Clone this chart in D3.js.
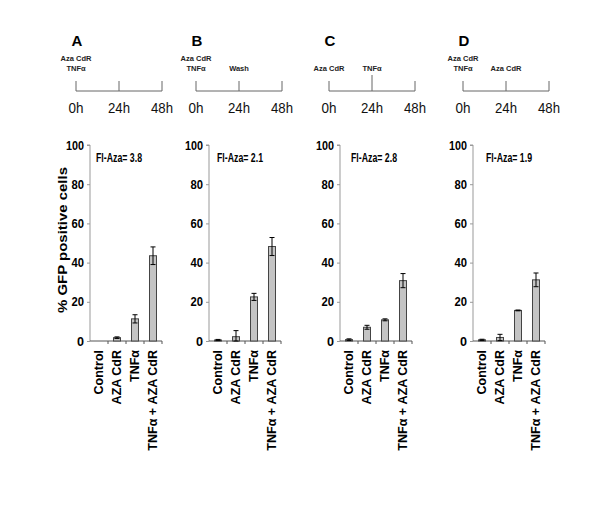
<!DOCTYPE html>
<html><head><meta charset="utf-8">
<script src="https://cdn.jsdelivr.net/npm/d3@7"></script>
<style>body{margin:0;background:#fff}svg{display:block}text{font-family:"Liberation Sans",Arial,sans-serif}</style>
</head><body><div id="chart"></div>
<script>
const categories = ["Control", "AZA CdR", "TNFα", "TNFα + AZA CdR"];
const panelLetters = ["A", "B", "C", "D"];
const foldLabels = ["Fl-Aza= 3.8", "Fl-Aza= 2.1", "Fl-Aza= 2.8", "Fl-Aza= 1.9"];
const valuesA = [0, 1.7, 11.3, 43.5];
const errorsA = [0, 0.4, 2.1, 4.5];
const valuesB = [0.5, 2.2, 22.5, 48.2];
const errorsB = [0.3, 3.1, 1.8, 4.6];
const valuesC = [0.7, 7.0, 10.8, 30.8];
const errorsC = [0.4, 1.0, 0.5, 3.6];
const valuesD = [0.6, 1.8, 15.6, 31.2];
const errorsD = [0.3, 1.6, 0.2, 3.5];
const yTicks = [0, 20, 40, 60, 80, 100];
const timeLabels = ["0h", "24h", "48h"];
const timeHours = [0, 24, 48];
// treatment annotations: [hour, lines]
const treatA = [[0, ["Aza CdR", "TNFα"]]];
const treatB = [[0, ["Aza CdR", "TNFα"]], [24, ["Wash"]]];
const treatC = [[0, ["Aza CdR"]], [24, ["TNFα"]]];
const treatD = [[0, ["Aza CdR", "TNFα"]], [24, ["Aza CdR"]]];

const values = [valuesA, valuesB, valuesC, valuesD];
const errors = [errorsA, errorsB, errorsC, errorsD];
const treats = [treatA, treatB, treatC, treatD];

// layout (pixels)
const axisX = [90, 209, 340, 473];
const plotW = 72;
const tlX = [76, 196, 329, 463];
const tlW = 86;
const foldDx = [6, 8, 11, 13];

const W = 600, H = 515;
const svg = d3.select("#chart").append("svg").attr("width", W).attr("height", H);

const y = d3.scaleLinear().domain([0, 100]).range([341, 145]);

for (let p = 0; p < 4; p++) {
  const g = svg.append("g");
  // timeline
  const t = d3.scaleLinear().domain([0, 48]).range([tlX[p], tlX[p] + tlW]);
  g.append("text").attr("x", t(0) + 1).attr("y", 46).attr("text-anchor", "middle")
    .attr("font-size", 15).attr("font-weight", "bold").text(panelLetters[p]);
  g.append("line").attr("x1", t(0)).attr("x2", t(48)).attr("y1", 91).attr("y2", 91)
    .attr("stroke", "#666").attr("stroke-width", 1);
  timeHours.forEach((h, i) => {
    const tall = (p === 2 && h === 24);
    g.append("line").attr("x1", t(h)).attr("x2", t(h)).attr("y1", tall ? 75 : 81).attr("y2", 91)
      .attr("stroke", "#666").attr("stroke-width", 1);
    g.append("text").attr("x", t(h)).attr("y", 113).attr("text-anchor", "middle")
      .attr("font-size", 14).attr("fill", "#111")
      .attr("textLength", timeLabels[i].length === 2 ? 15 : 22).attr("lengthAdjust", "spacingAndGlyphs")
      .text(timeLabels[i]);
  });
  treats[p].forEach(([h, lines]) => {
    const n = lines.length;
    lines.forEach((s, j) => {
      const by = 71 - (n - 1 - j) * 10;
      g.append("text").attr("x", t(h)).attr("y", by).attr("text-anchor", "middle")
        .attr("font-size", 7.5).attr("font-weight", "bold").attr("fill", "#222").text(s);
    });
  });

  // bar chart
  const x = d3.scaleBand().domain(categories).range([axisX[p], axisX[p] + plotW]);
  const bw = 7;
  // y axis
  const ya = d3.axisLeft(y).tickValues(yTicks).tickSize(3).tickPadding(3);
  const yg = g.append("g").attr("transform", `translate(${axisX[p]},0)`).call(ya);
  yg.select(".domain").attr("stroke", "#999").attr("d", `M-3,${y(100)}H0V${y(0)}`);
  yg.selectAll(".tick line").attr("stroke", "#999");
  yg.selectAll(".tick text").attr("font-size", 12.5).attr("font-weight", "bold")
    .attr("font-family", "Liberation Sans, Arial, sans-serif").attr("fill", "#000")
    .attr("textLength", d => d === 100 ? 18 : (d === 0 ? 7 : 12.5)).attr("lengthAdjust", "spacingAndGlyphs");
  // x axis
  const xa = d3.axisBottom(x).tickSize(0).tickFormat("");
  const xg = g.append("g").attr("transform", `translate(0,${y(0)})`).call(xa);
  xg.select(".domain").attr("stroke", "#555").attr("d", `M${axisX[p]},0H${axisX[p] + plotW}`);
  xg.selectAll(".tick").remove();
  categories.slice(1).forEach(c => {
    g.append("line").attr("x1", x(c)).attr("x2", x(c)).attr("y1", y(0)).attr("y2", y(0) + 3)
      .attr("stroke", "#555");
  });
  g.append("line").attr("x1", axisX[p] + plotW).attr("x2", axisX[p] + plotW).attr("y1", y(0)).attr("y2", y(0) + 3)
    .attr("stroke", "#555");
  // x labels
  categories.forEach(c => {
    const cx = x(c) + x.bandwidth() / 2 + 4;
    g.append("text").attr("transform", `translate(${cx},${y(0) + 9}) rotate(-90)`)
      .attr("text-anchor", "end").attr("font-size", 12.5).attr("font-weight", "bold").text(c);
  });
  // bars
  const data = categories.map((c, i) => ({c, v: values[p][i], e: errors[p][i]}));
  g.selectAll("rect.bar").data(data.filter(d => d.v > 0)).enter().append("rect")
    .attr("x", d => x(d.c) + x.bandwidth() / 2 - bw / 2)
    .attr("y", d => y(d.v)).attr("width", bw).attr("height", d => y(0) - y(d.v))
    .attr("fill", "#c4c4c4").attr("stroke", "#444").attr("stroke-width", 1);
  data.filter(d => d.e > 0).forEach(d => {
    const cx = x(d.c) + x.bandwidth() / 2;
    const lo = Math.max(0, d.v - d.e), hi = d.v + d.e;
    g.append("line").attr("x1", cx).attr("x2", cx).attr("y1", y(lo)).attr("y2", y(hi)).attr("stroke", "#000");
    [lo, hi].forEach(v => g.append("line").attr("x1", cx - 2.5).attr("x2", cx + 2.5).attr("y1", y(v)).attr("y2", y(v)).attr("stroke", "#000"));
  });
  // fold label
  g.append("text").attr("x", axisX[p] + foldDx[p]).attr("y", 162).attr("font-size", 13.5)
    .attr("font-weight", "bold").attr("textLength", 46).attr("lengthAdjust", "spacingAndGlyphs").text(foldLabels[p]);
}

svg.append("text").attr("transform", "translate(67,240) rotate(-90)").attr("text-anchor", "middle")
  .attr("font-size", 13.5).attr("font-weight", "bold").attr("textLength", 146).attr("lengthAdjust", "spacingAndGlyphs")
  .text("% GFP positive cells");
</script></body></html>
